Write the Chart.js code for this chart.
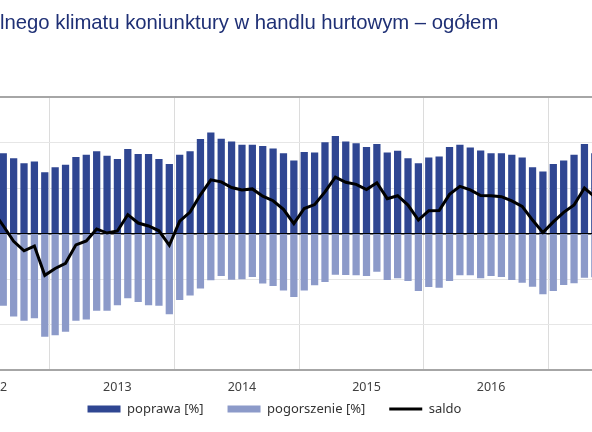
<!DOCTYPE html>
<html>
<head>
<meta charset="utf-8">
<script src="https://cdn.jsdelivr.net/npm/chart.js@4"></script>
<style>
  html, body { margin: 0; padding: 0; background: #fff; overflow: hidden; }
  body { width: 592px; height: 432px; position: relative; }
  #title {
    position: absolute; left: 0; top: 11px;
    font: 20.3px "Liberation Sans", Arial, sans-serif; line-height: 23px;
    color: #1f3075; white-space: nowrap;
  }
  #wrap { position: absolute; left: -51px; top: 0; width: 651px; height: 432px; }
</style>
</head>
<body>
<div id="wrap"><canvas id="climate-chart"></canvas></div>
<div id="title">lnego klimatu koniunktury w handlu hurtowym – ogółem</div>
<script>
// Months from July 2012 to May 2017
const firstYear = 2012;
const firstMonth = 7;
const monthCount = 59;
const categories = [];
for (let i = 0; i < monthCount; i++) {
  const m = (firstMonth - 1 + i) % 12 + 1;
  const y = firstYear + Math.floor((firstMonth - 1 + i) / 12);
  categories.push(y + "-" + String(m).padStart(2, "0"));
}

// Year labels sit under July of each year
const yearLabels = ["2012", "2013", "2014", "2015", "2016"];

const poprawa = [
  36.0, 35.3, 33.1, 30.9, 31.7, 26.9,
  29.1, 30.2, 33.6, 34.6, 36.1, 34.2, 32.7, 37.1, 34.9, 34.9, 32.8, 30.5,
  34.6, 36.1, 41.5, 44.4, 41.6, 40.4, 39.0, 39.0, 38.5, 37.4, 35.3, 32.1,
  35.8, 35.6, 40.1, 42.9, 40.4, 39.7, 38.0, 39.3, 35.6, 36.4, 33.1, 30.9,
  33.4, 33.9, 38.0, 39.0, 37.8, 36.5, 35.3, 35.3, 34.6, 33.4, 29.1, 27.2,
  30.5, 32.1, 34.6, 39.3, 35.3,
];

const pogorszenie = [
  -26.0, -31.8, -36.5, -38.4, -37.2, -45.4,
  -44.7, -43.2, -38.4, -37.8, -34.0, -34.0, -31.5, -28.5, -30.1, -31.5, -31.8, -35.5,
  -29.2, -27.2, -24.2, -20.6, -18.7, -20.3, -20.1, -19.1, -22.0, -23.1, -25.0, -27.9,
  -25.0, -22.8, -21.3, -18.1, -18.2, -18.4, -18.7, -16.8, -20.4, -19.7, -20.9, -25.3,
  -23.5, -23.8, -20.9, -18.4, -18.4, -19.7, -18.7, -19.1, -20.4, -21.6, -23.4, -26.7,
  -25.3, -22.6, -21.9, -19.4, -19.2,
];

const saldo = [
  10.0, 3.4, -3.4, -7.6, -5.5, -18.4,
  -15.4, -13.1, -5.0, -3.3, 2.0, 0.2, 1.1, 8.3, 4.6, 3.3, 1.2, -5.2,
  5.4, 9.4, 17.0, 23.6, 22.7, 20.2, 19.1, 19.6, 16.4, 14.4, 10.6, 4.3,
  11.0, 12.7, 18.3, 24.8, 22.5, 21.6, 19.3, 22.3, 15.3, 16.6, 12.5, 5.9,
  10.0, 10.1, 17.2, 20.7, 19.2, 16.7, 16.6, 16.2, 14.3, 11.9, 5.9, 0.4,
  5.1, 9.3, 12.5, 20.0, 16.1,
];

const darkBlue = "#2f4692";
const lightBlue = "#8c9ac9";

Chart.defaults.font.family = "'Noto Sans', sans-serif";
Chart.defaults.color = "#404040";

const ctx = document.getElementById("climate-chart");

new Chart(ctx, {
  data: {
    labels: categories,
    datasets: [
      {
        type: "bar",
        label: "poprawa [%]",
        data: poprawa,
        backgroundColor: darkBlue,
        borderWidth: 0,
        pointStyle: "rect",
        order: 1,
      },
      {
        type: "bar",
        label: "pogorszenie [%]",
        data: pogorszenie,
        backgroundColor: lightBlue,
        borderWidth: 0,
        pointStyle: "rect",
        order: 1,
      },
      {
        type: "line",
        label: "saldo",
        data: saldo,
        borderColor: "#000",
        backgroundColor: "#000",
        borderWidth: 3,
        pointRadius: 0,
        pointStyle: "line",
        tension: 0,
        order: 0,
      },
    ],
  },
  options: {
    responsive: true,
    maintainAspectRatio: false,
    animation: false,
    datasets: {
      bar: {
        grouped: false,
        barPercentage: 0.7,
        categoryPercentage: 1.0,
      },
    },
    layout: {
      padding: { top: 97, bottom: 6.5, left: 0, right: 0 },
    },
    scales: {
      x: {
        offset: true,
        border: { display: false },
        grid: {
          offset: true,
          drawTicks: false,
          lineWidth: 1,
          color: (c) =>
            c.index < categories.length && categories[c.index].endsWith("-01")
              ? "#dcdcdc"
              : "transparent",
        },
        ticks: {
          autoSkip: false,
          maxRotation: 0,
          mirror: true,
          padding: -24.5,
          font: { size: 12.5 },
          callback: (value, index) => {
            const [y, m] = categories[index].split("-");
            return m === "07" && yearLabels.includes(y) ? y : "";
          },
        },
        afterFit: (scale) => {
          scale.height = 8.5;
        },
      },
      y: {
        min: -60,
        max: 60,
        border: { display: false },
        ticks: { display: false, stepSize: 20 },
        grid: {
          drawTicks: false,
          color: (c) => {
            const v = c.tick.value;
            if (v === 0) return "transparent";
            if (Math.abs(v) === 60) return "#a6a6a6";
            return "#e6e6e6";
          },
          lineWidth: (c) => (Math.abs(c.tick.value) === 60 ? 2 : 1),
        },
        afterFit: (scale) => {
          scale.width = 38.7;
        },
      },
      // zero line drawn above the bars
      y2: {
        position: "right",
        min: -60,
        max: 60,
        z: 1,
        border: { display: false },
        ticks: { display: false, stepSize: 20 },
        grid: {
          drawTicks: false,
          color: (c) => (c.tick.value === 0 ? "#000" : "transparent"),
          lineWidth: 1.5,
        },
        afterFit: (scale) => {
          scale.width = 0;
        },
      },
    },
    plugins: {
      legend: {
        position: "bottom",
        labels: {
          usePointStyle: true,
          pointStyleWidth: 33,
          boxHeight: 7,
          padding: 24,
          color: "#333",
          font: { size: 13 },
          sort: (a, b) => a.datasetIndex - b.datasetIndex,
        },
      },
      tooltip: { enabled: false },
    },
  },
});
</script>
</body>
</html>
